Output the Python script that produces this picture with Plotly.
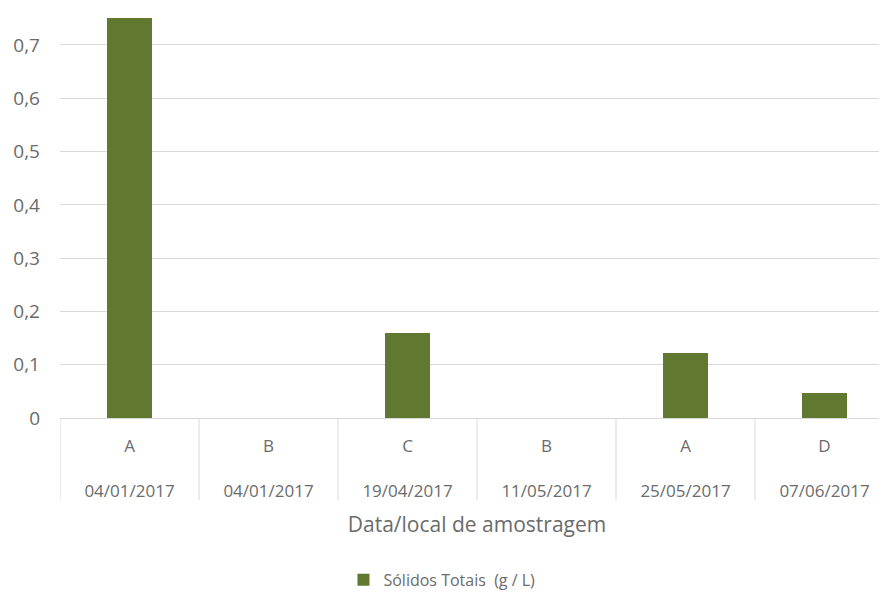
import plotly.graph_objects as go

sites = ["A", "B", "C", "B", "A", "D"]
dates = ["04/01/2017", "04/01/2017", "19/04/2017", "11/05/2017", "25/05/2017", "07/06/2017"]
values = [0.75, 0, 0.16, 0, 0.122, 0.047]
series_name = "Sólidos Totais  (g / L)"
x_title = "Data/local de amostragem"

cats = list(range(len(sites)))
ticktext = [f"{s}<br><br>{d}" for s, d in zip(sites, dates)]

fig = go.Figure()
fig.add_trace(go.Bar(
    x=cats, y=values, name=series_name,
    marker=dict(color="#617830", line=dict(width=0)),
    width=0.317, showlegend=True,
))

line_col = "#d9d9d9"
shapes = []
for i in range(len(cats) + 1):
    shapes.append(dict(type="line", xref="x", yref="paper",
                       x0=i - 0.5, x1=i - 0.5, y0=0, y1=-0.2,
                       line=dict(color=line_col, width=1)))

fig.update_layout(
    width=887, height=596,
    margin=dict(l=52, r=1, t=0, b=186),
    paper_bgcolor="white", plot_bgcolor="white",
    separators=",.",
    font=dict(family="Open Sans", color="#6b6b6b", size=14),
    bargap=0,
    shapes=shapes,
    xaxis=dict(
        tickmode="array", tickvals=cats, ticktext=ticktext,
        range=[-0.5, 5.5], showgrid=False, zeroline=False,
        showline=True, linecolor=line_col, linewidth=1,
        ticks="", tickfont=dict(size=17, color="#6b6b6b"),
        ticklabelstandoff=13,
        automargin=False,
        title=dict(text=x_title, font=dict(size=21, color="#6b6b6b"), standoff=16),
    ),
    yaxis=dict(
        range=[0, 0.7694], dtick=0.1, tick0=0,
        showgrid=True, gridcolor=line_col, gridwidth=1,
        zeroline=False, showline=False, ticks="",
        tickfont=dict(size=19, color="#6b6b6b"),
        ticklabelstandoff=19, automargin=False,
    ),
    legend=dict(orientation="h", x=0.458, xanchor="center", y=-0.395, yanchor="middle",
                font=dict(size=16, color="#6b6b6b"), itemwidth=30),
)

fig.write_html("out.html")
